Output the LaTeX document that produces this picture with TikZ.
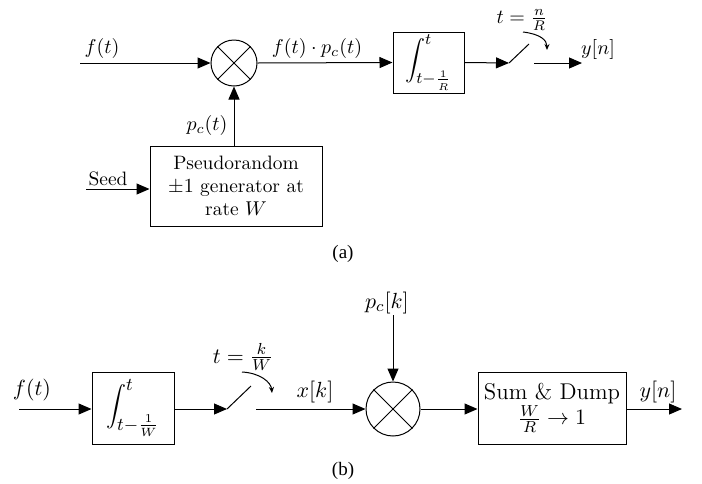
\documentclass[tikz,border=0pt]{standalone}
\usepackage{fontspec}
\newfontfamily\capfont{Liberation Serif}[Ligatures=TeX]
\usetikzlibrary{arrows.meta}
\begin{document}
\begin{tikzpicture}[x=0.5pt,y=-0.5pt,
  line width=0.5pt,
  arr/.style={-{Triangle[length=6.5pt,width=5.5pt]}},
  sarr/.style={-{Stealth[length=3pt,width=2.5pt]}},
  mult/.style={draw,circle,inner sep=0pt},
  blk/.style={draw,rectangle,inner sep=0pt,align=center},
  lblA/.style={font=\fontsize{9.7}{11.5}\selectfont,inner sep=0pt},
  lblB/.style={font=\fontsize{11.4}{13.5}\selectfont,inner sep=0pt},
  capstyle/.style={font=\capfont\fontsize{9.5}{10}\selectfont,inner sep=0pt}]
\useasboundingbox (0,0) rectangle (702,483);
% ---------- (a) ----------
\coordinate (a-in) at (80,63);
\node[mult,minimum size=23pt] (m1) at (234,63) {};
\draw (m1.north west) -- (m1.south east) (m1.north east) -- (m1.south west);
\node[blk,lblA,minimum width=86pt,minimum height=40pt,text width=84pt] (pg) at (236,186)
  {Pseudorandom\\ $\pm1$ generator at\\ rate $W$};
\coordinate (seed) at (86,189);
\node[blk,font=\fontsize{11}{13}\selectfont,minimum width=35.5pt,minimum height=30.5pt] (int1) at (428.5,62.5)
  {$\displaystyle\int_{t-\frac{1}{R}}^{t}$};
\coordinate (sw1a) at (509,63);
\coordinate (sw1b) at (529,44);
\coordinate (sw1c) at (534,63);
\coordinate (out1) at (582,63);
\coordinate (c1s) at (523,32);
\coordinate (c1e) at (547,50);
\draw[arr] (a-in) -- (m1.west);
\draw[arr] (m1.east) -- (int1.west);
\draw[arr] (pg.north -| m1) -- (m1.south);
\draw[arr] (seed) -- (seed -| pg.west);
\draw[arr] (int1.east) -- (sw1a);
\draw (sw1a) -- (sw1b);
\draw[arr] (sw1c) -- (out1);
\draw[sarr] (c1s) .. controls (540,34) and (547,40) .. (c1e);
\node[lblA] (lf1) at (102,48) {$f(t)$};
\node[lblA] (lfp) at (317,48) {$f(t)\cdot p_c(t)$};
\node[lblA] (lpc) at (207,125) {$p_c(t)$};
\node[lblA] (lseed) at (108,179) {Seed};
\node[lblA] (lt1) at (522,20) {$t=\frac{n}{R}$};
\node[lblA] (ly1) at (598,49) {$y[n]$};
\node[capstyle] (capa) at (343,254) {(a)};
% ---------- (b) ----------
\coordinate (b-in) at (19,409);
\node[blk,font=\fontsize{12.5}{14}\selectfont,minimum width=41pt,minimum height=36pt] (int2) at (133,408)
  {$\displaystyle\int_{t-\frac{1}{W}}^{t}$};
\coordinate (sw2a) at (227,409);
\coordinate (sw2b) at (251,386);
\coordinate (sw2c) at (256,409);
\node[mult,minimum size=27pt] (m2) at (393,409) {};
\draw (m2.north west) -- (m2.south east) (m2.north east) -- (m2.south west);
\coordinate (pck) at (393,315);
\node[blk,lblB,minimum width=74pt,minimum height=36pt] (sd) at (552,408)
  {Sum \& Dump\\[-1pt] $\frac{W}{R}\rightarrow 1$};
\coordinate (out2) at (682,409);
\coordinate (c2s) at (242,372);
\coordinate (c2e) at (272,393);
\draw[arr] (b-in) -- (b-in -| int2.west);
\draw[arr] (int2.east |- sw2a) -- (sw2a);
\draw (sw2a) -- (sw2b);
\draw[arr] (sw2c) -- (m2.west);
\draw[arr] (pck) -- (m2.north);
\draw[arr] (m2.east) -- (m2.east -| sd.west);
\draw[arr] (sd.east |- out2) -- (out2);
\draw[sarr] (c2s) .. controls (260,373) and (271,382) .. (c2e);
\node[lblB] (lf2) at (32,390) {$f(t)$};
\node[lblB] (lt2) at (243,357) {$t=\frac{k}{W}$};
\node[lblB] (lx) at (315,392) {$x[k]$};
\node[lblB] (lpk) at (387,303) {$p_c[k]$};
\node[lblB] (ly2) at (658,392) {$y[n]$};
\node[capstyle] (capb) at (343,471) {(b)};
\end{tikzpicture}
\end{document}
